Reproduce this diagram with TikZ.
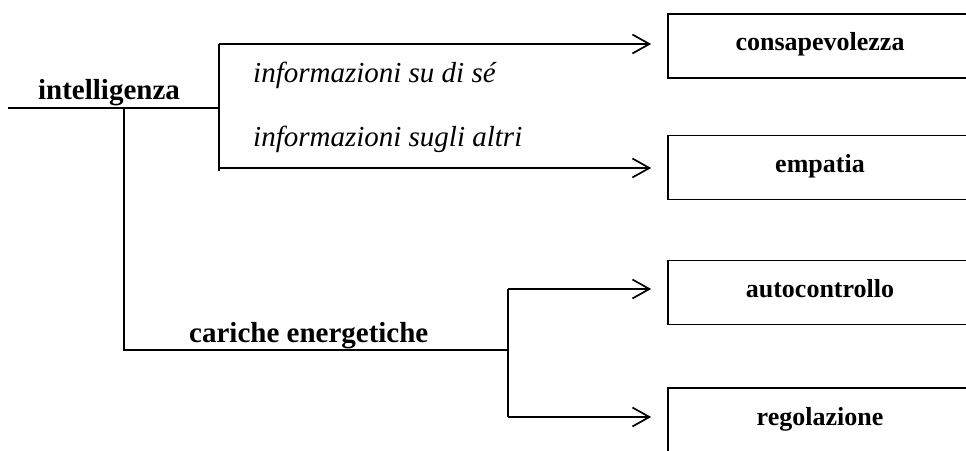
\documentclass[tikz,border=0pt]{standalone}
\usepackage{fontspec}
\setmainfont{Liberation Serif}
\usetikzlibrary{arrows.meta}
\begin{document}
\begin{tikzpicture}[x=1pt,y=1pt,
  wire/.style={line width=1.7pt},
  arr/.style={wire,-{Straight Barb[length=17pt,width=19pt,line width=1.7pt]},shorten >=16pt},
  box/.style={draw,line width=1.7pt,minimum width=304pt,minimum height=64pt,inner sep=0pt,
    font=\fontsize{26}{30}\selectfont\bfseries,text height=17pt,text depth=7pt},
  lbl/.style={font=\fontsize{29}{34}\selectfont\bfseries,inner sep=0pt},
  note/.style={font=\fontsize{29}{34}\selectfont\itshape,inner sep=0pt}]
\useasboundingbox (0,0) rectangle (966,450);
\clip (0,0) rectangle (966,450);

% target boxes (their right side runs past the page edge)
\node[box] (cons) at (820,404)   {consapevolezza};
\node[box] (emp)  at (820,282.5) {empatia};
\node[box] (auto) at (820,157.5) {autocontrollo};
\node[box] (reg)  at (820,30)    {regolazione};

% labels
\node[lbl,anchor=base]      (intel) at (109,350) {intelligenza};
\node[note,anchor=base west] (self)  at (253,367) {informazioni su di sé};
\node[note,anchor=base west] (other) at (253,303) {informazioni sugli altri};
\node[lbl,anchor=base west]  (car)   at (189,108) {cariche energetiche};

% junction points
\coordinate (L)  at (8,342);
\coordinate (J)  at (124,342);
\coordinate (B)  at (219,342);
\coordinate (BT) at (219,406);
\coordinate (BB) at (219,282);
\coordinate (BE) at (219,279);
\coordinate (S)  at (124,100);
\coordinate (F)  at (508,100);
\coordinate (FT) at (508,161);
\coordinate (FB) at (508,33);

% upper branch
\draw[wire] (L) -- (B);
\draw[wire] (BT) -- (BE);
\draw[arr] (BT) -- (BT -| cons.west);
\draw[arr] (BB) -- (BB -| emp.west);

% lower branch
\draw[wire] (J) -- (S) -- (F);
\draw[wire] (FT) -- (FB);
\draw[arr] (FT) -- (FT -| auto.west);
\draw[arr] (FB) -- (FB -| reg.west);
\end{tikzpicture}
\end{document}
